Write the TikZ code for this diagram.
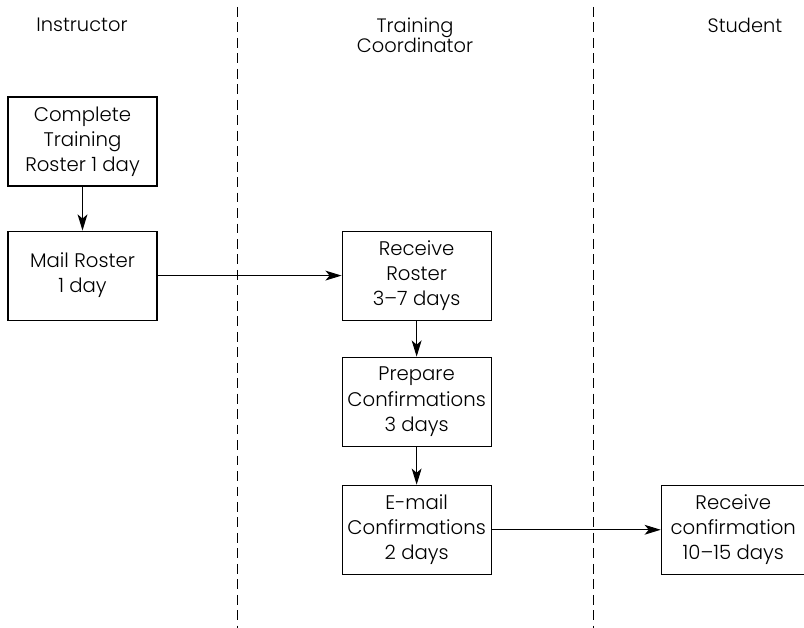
\documentclass[tikz,border=0pt]{standalone}
\usepackage{fontspec}
\setmainfont{Poppins}[UprightFont=* Light]
\usetikzlibrary{positioning,arrows.meta}

\begin{document}
\begin{tikzpicture}[
x=0.025cm,
y=-0.025cm,
node distance=0.9cm,
task/.style={
    draw,
    line width=0.75pt,
    minimum width=3.725cm,
    minimum height=2.225cm,
    inner sep=1pt,
    align=center,
    font=\fontsize{14}{17.8}\selectfont
},
lane/.style={
    align=center,
    font=\fontsize{13.8}{14.5}\selectfont
},
>={Stealth[length=11.5pt,width=7pt,inset=3pt]}
]
\useasboundingbox (0,0) rectangle (804,628);

\node (instructor) [lane] at (82,25) {Instructor};
\node (coordinator) [lane] at (415,35) {Training\\Coordinator};
\node (student) [lane] at (745,25) {Student};

\draw[line width=0.7pt,dash pattern=on 7pt off 4pt] (237,7) -- (237,628);
\draw[line width=0.7pt,dash pattern=on 7pt off 4pt] (593,7) -- (593,628);

\node (complete) [task] at (82.5,141.5)
{Complete\\Training\\Roster 1 day};

\node (mail) [task, below=1.1cm of complete]
{Mail Roster\\1 day};

\node (receive) [task, right=4.6cm of mail]
{Receive\\Roster\\3--7 days};

\node (prepare) [task, below=0.9cm of receive]
{Prepare\\Confirmations\\3 days};

\node (email) [task, below=0.95cm of prepare]
{E-mail\\Confirmations\\2 days};

\node (confirm) [task, minimum width=3.6cm, right=4.225cm of email]
{Receive\\confirmation\\10--15 days};

\draw[->,line width=0.75pt] (complete)--(mail);
\draw[->,line width=0.75pt] (mail)--(receive);
\draw[->,line width=0.75pt] (receive)--(prepare);
\draw[->,line width=0.75pt] (prepare)--(email);
\draw[->,line width=0.75pt] (email)--(confirm);

\end{tikzpicture}
\end{document}
